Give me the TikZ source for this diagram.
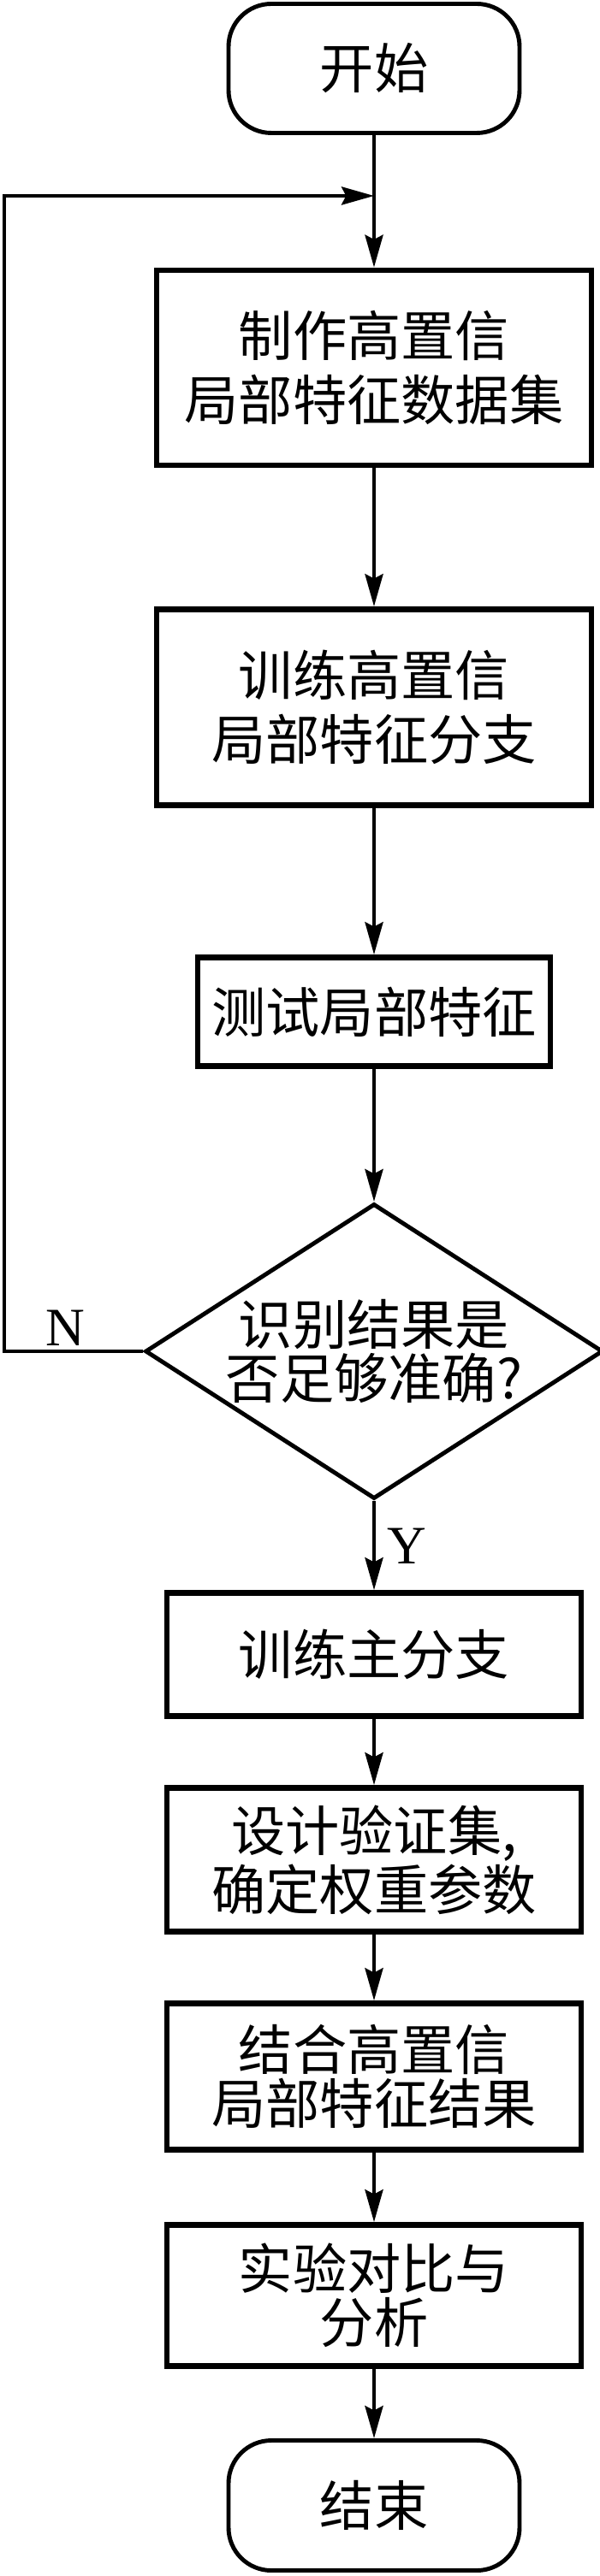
\documentclass[tikz,border=0pt]{standalone}
\usepackage{fontspec}
\setmainfont{Liberation Serif}
\newfontfamily\cjk{Noto Sans CJK SC}
\usetikzlibrary{shapes.geometric,arrows.meta}

\begin{document}
\begin{tikzpicture}[
					every node/.style={font=\cjk\fontsize{18pt}{18pt}\selectfont, align=center, inner sep=0pt},
					terminal/.style={draw, line width=1.4pt, rounded corners=0.5cm, minimum width=3.40cm, minimum height=1.51cm},
					process/.style={draw, rectangle, line width=1.9pt, minimum width=4.84cm},
					decision/.style={draw, diamond, aspect=1.55, line width=1.4pt, minimum width=5.16cm, minimum height=3.32cm},
					yesno/.style={font=\rmfamily\fontsize{18pt}{18pt}\selectfont},
					flow/.style={line width=1.2pt, -{Stealth[length=10.8pt,width=6pt,inset=1.5pt]}}]
    \useasboundingbox (0,0) rectangle (7,-30.12);
    % Place nodes
    \node [terminal] (S) at (4.37,-0.80){开始};
    \node [process, minimum width=5.08cm, minimum height=2.28cm] (B1) at (4.37,-4.30){制作高置信\\[3.5pt]局部特征数据集};
    \node [process, minimum width=5.08cm, minimum height=2.29cm] (B2) at (4.37,-8.27){训练高置信\\[3.5pt]局部特征分支};
    \node [process, minimum width=4.12cm, minimum height=1.27cm] (B3) at (4.37,-11.83){测试局部特征};
    \node [decision] (D) at (4.37,-15.80){识别结果是\\否足够准确?};
    \node [process, minimum height=1.44cm] (B4) at (4.37,-19.345){训练主分支};
    \node [process, minimum height=1.68cm] (B5) at (4.37,-21.745){设计验证集,\\确定权重参数};
    \node [process, minimum height=1.71cm] (B6) at (4.37,-24.28){结合高置信\\局部特征结果};
    \node [process, minimum height=1.65cm] (B7) at (4.37,-26.84){实验对比与\\分析};
    \node [terminal, minimum height=1.52cm] (E) at (4.37,-29.295){结束};
    \node [yesno] (labN) at (0.76,-15.53){N};
    \node [yesno] (labY) at (4.75,-18.08){Y};
    \coordinate (J) at (4.37,-2.29);
    \coordinate (loopL) at (0.05,-2.29);
    % Draw edges
    \draw[flow] (S) edge (B1);
    \draw[flow] (B1) edge (B2);
    \draw[flow] (B2) edge (B3);
    \draw[flow] (B3) edge (D);
    \draw[flow] (D) edge (B4);
    \draw[flow] (B4) edge (B5);
    \draw[flow] (B5) edge (B6);
    \draw[flow] (B6) edge (B7);
    \draw[flow] (B7) edge (E);
    \draw[flow] (D.west) -| (loopL) -- (J);
\end{tikzpicture}
\end{document}
